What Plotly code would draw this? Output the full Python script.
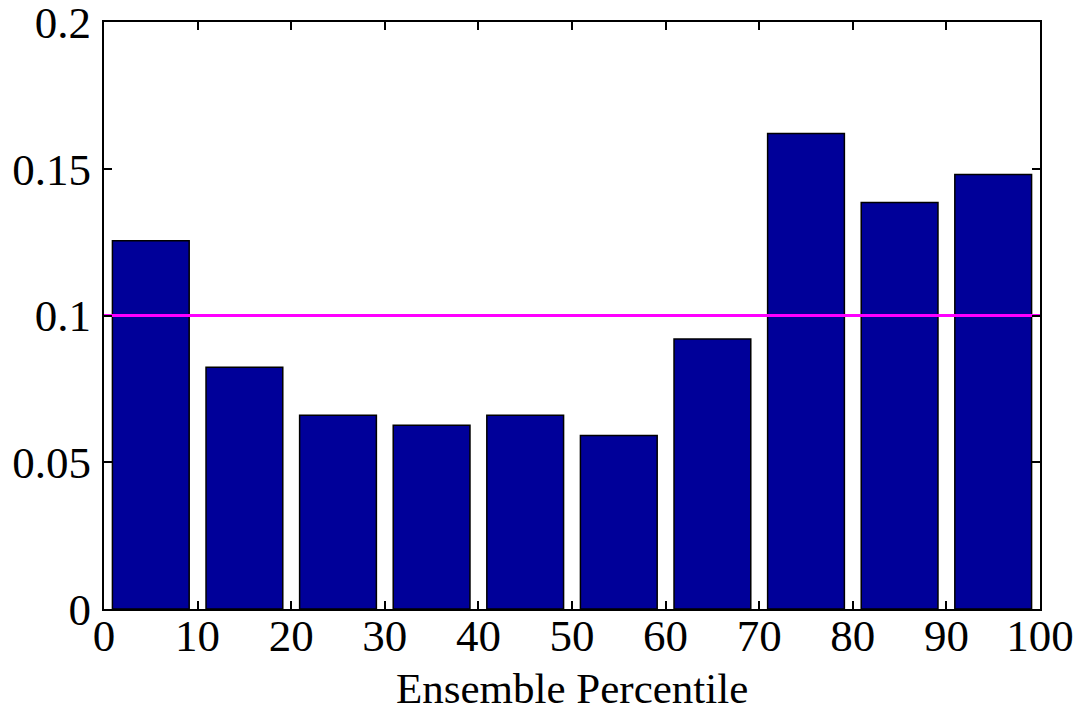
import plotly.graph_objects as go

bin_centers = [5, 15, 25, 35, 45, 55, 65, 75, 85, 95]
frequencies = [0.1255, 0.0824, 0.0660, 0.0626, 0.0660, 0.0591, 0.0920, 0.1620, 0.1385, 0.1480]
ref_x = [0, 100]
ref_y = [0.1, 0.1]
x_ticks = [0, 10, 20, 30, 40, 50, 60, 70, 80, 90, 100]
y_ticks = [0, 0.05, 0.1, 0.15, 0.2]
y_tick_text = ["0", "0.05", "0.1", "0.15", "0.2"]
x_title = "Ensemble Percentile"

fig = go.Figure()
fig.add_trace(go.Bar(
    x=bin_centers, y=frequencies, width=8.2,
    marker=dict(color="#000099", line=dict(color="black", width=1.5)),
    showlegend=False,
))
fig.add_trace(go.Scatter(
    x=ref_x, y=ref_y, mode="lines",
    line=dict(color="#FF00FF", width=3), showlegend=False,
))

font = "Liberation Serif, Times New Roman, serif"
fig.update_layout(
    width=1081, height=707,
    margin=dict(l=104, r=41, t=22, b=98, autoexpand=False),
    paper_bgcolor="white", plot_bgcolor="white",
    font=dict(family=font, size=44, color="black"),
    xaxis=dict(
        range=[0, 100], tickvals=x_ticks, ticks="inside", ticklen=8,
        tickwidth=1.5, tickcolor="black", showline=True, linecolor="black",
        linewidth=2, mirror="ticks", showgrid=False, zeroline=False,
        automargin=False, ticklabeloverflow="allow", ticklabelstandoff=-14,
        tickfont=dict(size=45),
    ),
    yaxis=dict(
        range=[0, 0.2], tickvals=y_ticks, ticktext=y_tick_text, ticks="inside",
        ticklen=8, tickwidth=1.5, tickcolor="black", showline=True,
        linecolor="black", linewidth=2, mirror="ticks", showgrid=False,
        zeroline=False, automargin=False, ticklabeloverflow="allow",
        ticklabelstandoff=2, tickfont=dict(size=45),
    ),
    annotations=[dict(
        text=x_title, xref="paper", yref="paper", x=0.5, y=-0.1346,
        xanchor="center", yanchor="middle", showarrow=False,
        font=dict(size=43),
    )],
)
fig.write_html("out.html", config={"displayModeBar": False},
               post_script="document.body.style.margin='0px';")
